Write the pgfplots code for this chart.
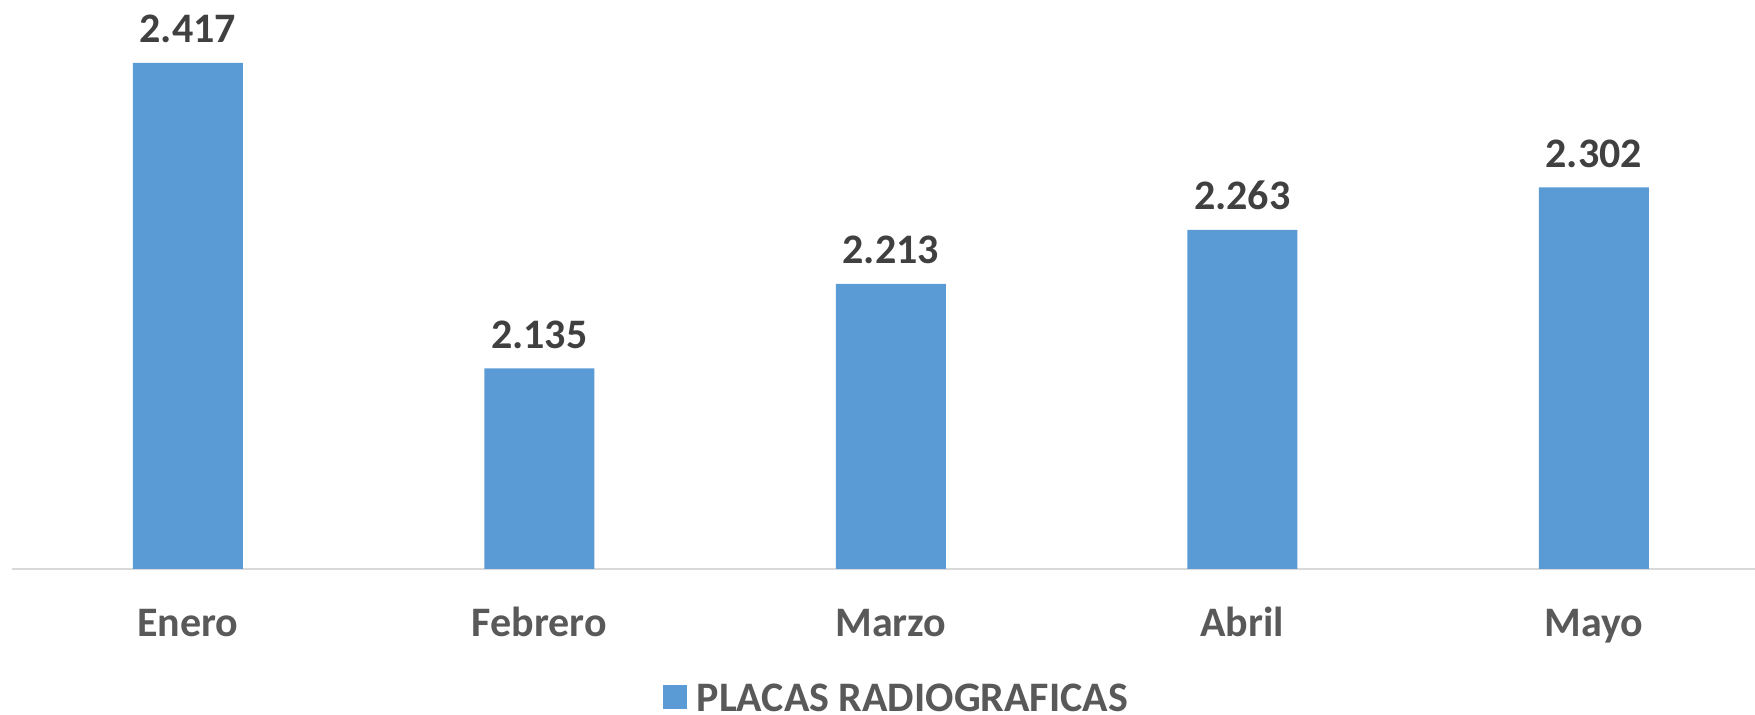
\documentclass[border=0pt]{standalone}
\usepackage{fontspec}
\setmainfont{Carlito}
\usepackage{pgfplots}
\pgfplotsset{compat=1.18}
\definecolor{barblue}{HTML}{5B9BD5}
\definecolor{axisgray}{HTML}{D9D9D9}
\definecolor{ticktext}{HTML}{595959}
\definecolor{labeltext}{HTML}{404040}
\begin{document}
\begin{tikzpicture}
\path[use as bounding box] (-6pt,-73pt) rectangle (871.5pt,284.5pt);
\begin{axis}[
    scale only axis,
    width=871.4pt, height=284.5pt,
    xmin=-0.5, xmax=4.458, ymin=1950, ymax=2475,
    axis y line=none,
    axis x line*=bottom,
    x axis line style={axisgray, line width=1pt},
    xtick={0,1,2,3,4},
    xticklabels={Enero,Febrero,Marzo,Abril,Mayo},
    major tick length=0pt,
    xticklabel style={font=\fontsize{21}{24}\selectfont\bfseries, text=ticktext, anchor=base, yshift=-34pt},
    legend style={draw=none, at={(0.508,-0.27)}, anchor=south, font=\fontsize{21}{24}\selectfont\bfseries, text=ticktext},
    legend image code/.code={\fill[barblue] (-2pt,-5pt) rectangle (10pt,7pt);},
    legend cell align=left,
]
\addplot[ybar, bar width=55pt, fill=barblue, draw=none,
    nodes near coords={\pgfmathprintnumber[assume math mode=true, fixed, precision=0, 1000 sep={.}]{\pgfplotspointmeta}},
    every node near coord/.style={anchor=base, yshift=10pt, font=\fontsize{21}{24}\selectfont\bfseries, text=labeltext},
] coordinates {(0,2417) (1,2135) (2,2213) (3,2263) (4,2302)};
\addlegendentry{\hspace{3pt}PLACAS RADIOGRAFICAS}
\end{axis}
\end{tikzpicture}
\end{document}
